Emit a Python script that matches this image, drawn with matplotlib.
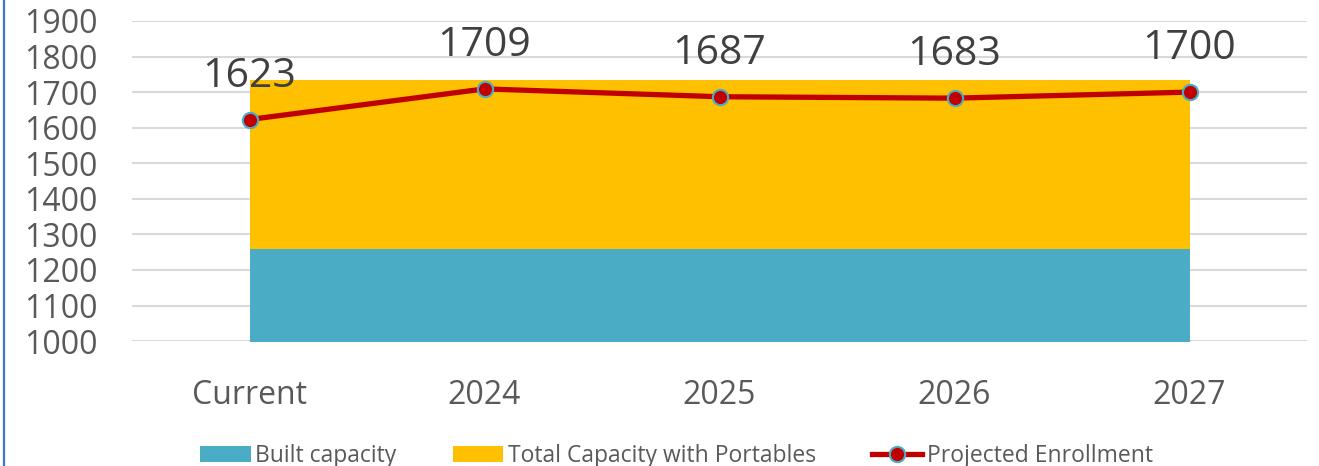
import matplotlib.pyplot as plt
from matplotlib.lines import Line2D
import numpy as np

plt.rcParams['font.family'] = ['Open Sans', 'DejaVu Sans']

categories = ['Current', '2024', '2025', '2026', '2027']
built_capacity = [1260, 1260, 1260, 1260, 1260]
total_capacity = [1735, 1735, 1735, 1735, 1735]
enrollment = [1623, 1709, 1687, 1683, 1700]
y_ticks = [1000, 1100, 1200, 1300, 1400, 1500, 1600, 1700, 1800, 1900]

blue = '#4BACC6'
yellow = '#FFC000'
red = '#C00000'
grey = '#595959'

fig = plt.figure(figsize=(13.19, 4.66), dpi=100)
ax = fig.add_axes([0.1001, 0.268, 0.8908, 0.687])

x = np.arange(len(categories))
ax.fill_between(x, 0, built_capacity, color=blue, lw=0, label='Built capacity', zorder=2)
ax.fill_between(x, built_capacity, total_capacity, color=yellow, lw=0,
                label='Total Capacity with Portables', zorder=2)
ax.plot(x, enrollment, color=red, lw=3.8, marker='o', markersize=11,
        markerfacecolor=red, markeredgecolor=blue, markeredgewidth=1.5,
        label='Projected Enrollment', zorder=4)

for xi, v in zip(x, enrollment):
    ax.annotate(str(v), (xi, v), xytext=(0, 31), textcoords='offset points',
                ha='center', va='center', fontsize=29.5, color='#404040', zorder=5)

ax.set_xlim(-0.5, len(categories) - 0.5)
ax.set_ylim(1000, 1900)
ax.set_yticks(y_ticks)
ax.set_xticks(x)
ax.set_xticklabels(categories)
ax.tick_params(axis='both', length=0, labelsize=23, colors=grey)
ax.tick_params(axis='y', pad=25)
ax.tick_params(axis='x', pad=27)
ax.grid(axis='y', color='#D9D9D9', lw=1.5, zorder=0)
ax.set_axisbelow(True)
for s in ax.spines.values():
    s.set_visible(False)

leg = fig.legend(loc='lower center', bbox_to_anchor=(0.513, -0.048), ncol=3,
                 frameon=False, fontsize=16.5, labelcolor=grey,
                 handlelength=2.2, handleheight=0.7, handletextpad=0.2,
                 columnspacing=2.45)

fig.add_artist(Line2D([0.0033, 0.0033], [0, 1], color='#4472C4', lw=1.6,
                      transform=fig.transFigure))

fig.savefig('out.png', dpi=100)
